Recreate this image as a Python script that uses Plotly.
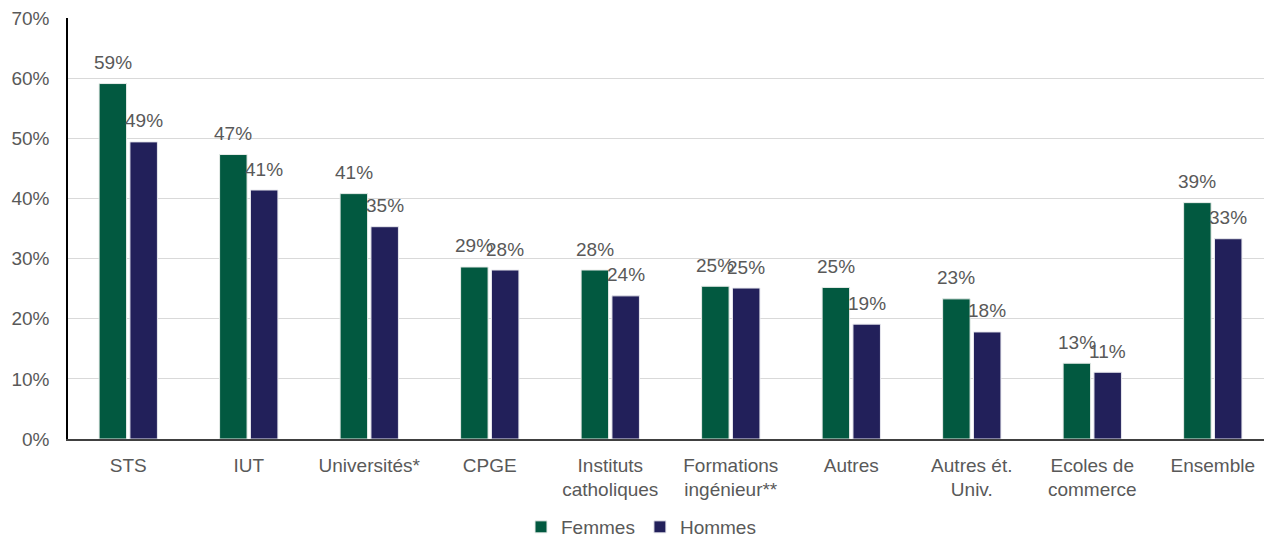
import plotly.graph_objects as go

categories = ["STS", "IUT", "Universités*", "CPGE", "Instituts<br>catholiques",
              "Formations<br>ingénieur**", "Autres", "Autres ét.<br>Univ.",
              "Ecoles de<br>commerce", "Ensemble"]
femmes = [59.1, 47.3, 40.8, 28.6, 28.1, 25.4, 25.2, 23.3, 12.6, 39.3]
hommes = [49.4, 41.4, 35.3, 28.1, 23.8, 25.1, 19.1, 17.8, 11.1, 33.3]
yticks = [0, 10, 20, 30, 40, 50, 60, 70]

font_family = "Arial, Liberation Sans, sans-serif"
grey = "#595959"
fs = 19

W, H = 1266, 537
ML, MR, MT, MB = 68, 2, 18, 98
bargap, bargroupgap = 0.488, 0.109
x_range = [-0.5, 9.425]

fig = go.Figure()
fig.add_trace(go.Bar(
    x=categories, y=femmes, name="Femmes",
    marker=dict(color="#025940", line=dict(color="#e8ece9", width=1)),
    hoverinfo="x+y",
))
fig.add_trace(go.Bar(
    x=categories, y=hommes, name="Hommes",
    marker=dict(color="#22205a", line=dict(color="#e8e8ee", width=1)),
    hoverinfo="x+y",
))

# value labels above each bar
cat_px = (W - ML - MR) / (x_range[1] - x_range[0])
slot = cat_px * (1 - bargap) / 2
annotations = []
for series, sign in ((femmes, -1), (hommes, 1)):
    for c, v in zip(categories, series):
        annotations.append(dict(
            x=c, y=v, xref="x", yref="y", text=f"{v:.0f}%", showarrow=False,
            xshift=sign * slot / 2, yshift=21, yanchor="middle", xanchor="center",
            font=dict(size=fs, color=grey, family=font_family),
        ))

fig.update_layout(
    width=W, height=H,
    margin=dict(l=ML, r=MR, t=MT, b=MB),
    paper_bgcolor="white", plot_bgcolor="white",
    barmode="group", bargap=bargap, bargroupgap=bargroupgap,
    font=dict(family=font_family, size=fs, color=grey),
    legend=dict(orientation="h", x=0.5 + 8 / W, xanchor="center", xref="container",
                y=(H - 527) / H, yanchor="middle", yref="container",
                font=dict(size=fs, color=grey), itemwidth=30, traceorder="normal"),
    showlegend=True,
    annotations=annotations,
)
fig.update_yaxes(
    range=[0, 70], tickvals=yticks, ticktext=[f"{v}%" for v in yticks],
    showgrid=True, gridcolor="#d9d9d9", gridwidth=1,
    showline=True, linecolor="black", linewidth=1.5,
    tickfont=dict(size=fs, color=grey), ticks="", zeroline=False,
    automargin=False, ticklabelstandoff=13, ticklabeloverflow="allow",
)
fig.update_xaxes(
    range=x_range,
    showline=True, linecolor="#404040", linewidth=1.5,
    tickfont=dict(size=fs, color=grey), ticks="",
    automargin=False, ticklabelstandoff=8,
)

# remove the browser's default 8px body margin so the chart fills the window
fig.write_html("out.html",
               config={"displayModeBar": False},
               post_script="document.body.style.margin='0';document.body.style.overflow='hidden';")
